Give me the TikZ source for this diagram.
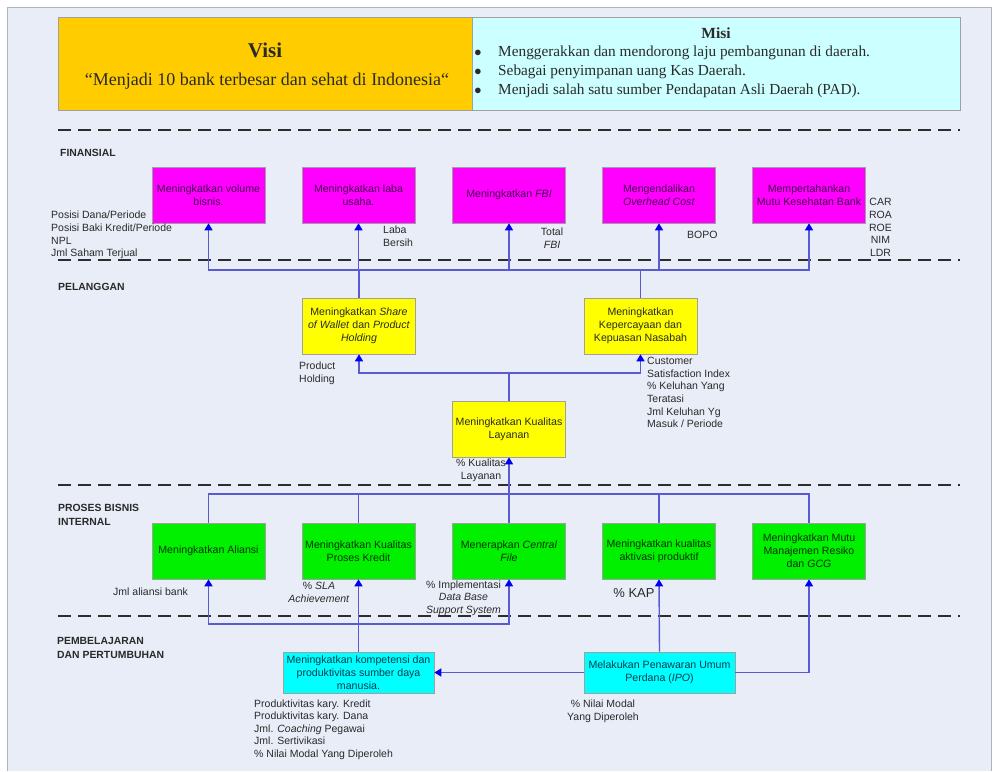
\documentclass[tikz,border=0pt]{standalone}
\usepackage{fontspec}
\setmainfont{Liberation Serif}
\setsansfont{Liberation Sans}
\usetikzlibrary{arrows.meta,calc}
\definecolor{bg}{HTML}{E9EDF8}
\definecolor{visiC}{HTML}{FFCC00}
\definecolor{misiC}{HTML}{CCFFFF}
\definecolor{magC}{HTML}{FF00FF}
\definecolor{yelC}{HTML}{FFFF00}
\definecolor{grnC}{HTML}{00F000}
\definecolor{cyaC}{HTML}{00FFFF}
\definecolor{lineC}{HTML}{5A5AD2}
\definecolor{tipC}{HTML}{0000F0}
\definecolor{txt}{HTML}{2A2A2A}
\definecolor{bord}{HTML}{A0A0A0}
\newcommand{\bfnt}{\sffamily\fontsize{10.6}{13}\selectfont}
\newcommand{\lfnt}{\sffamily\fontsize{10.5}{12.6}\selectfont}
\tikzset{
  box/.style={draw=bord, line width=0.6pt, minimum width=113pt, minimum height=56pt,
    align=center, font=\bfnt, inner sep=1pt, text=txt},
  magbox/.style={box, fill=magC, text={rgb,255:red,70;green,0;blue,80}},
  yelbox/.style={box, fill=yelC},
  grnbox/.style={box, fill=grnC, text={rgb,255:red,0;green,50;blue,0}},
  cyabox/.style={box, fill=cyaC, minimum width=151pt, minimum height=41pt, text={rgb,255:red,0;green,60;blue,80}},
  lbl/.style={font=\lfnt, text=txt, inner sep=0pt},
  sect/.style={font=\sffamily\bfseries\fontsize{10.4}{13.5}\selectfont, text=txt, inner sep=0pt, align=left, anchor=west},
  dline/.style={draw={rgb,255:red,45;green,45;blue,45}, line width=2pt, dash pattern=on 13pt off 7pt},
  conn/.style={draw=lineC, line width=1.4pt},
  arr/.style={conn, -{Triangle[width=8pt,length=7pt,color=tipC]}},
}
\begin{document}
\begin{tikzpicture}[x=1pt,y=-1pt]
\useasboundingbox (0,0) rectangle (998,771);
\fill[white] (0,0) rectangle (998,771);
\fill[bg] (7,7) rectangle (991,771);
\draw[bord!80, line width=0.8pt] (7,771) -- (7,7) -- (991,7) -- (991,771);

% Visi / Misi
\node[draw=bord, fill=visiC, minimum width=414pt, minimum height=93pt, inner sep=0pt] (visi) at (265,63.5) {};
\node[font=\bfseries\fontsize{21}{24}\selectfont, text=txt] (visiT) at (265,50) {Visi};
\node[font=\fontsize{18}{20}\selectfont, text=txt] (visiQ) at (267,81) {“Menjadi 10 bank terbesar dan sehat di Indonesia“};
\node[draw=bord, fill=misiC, minimum width=488pt, minimum height=93pt, inner sep=0pt] (misi) at (716,63.5) {};
\node[font=\bfseries\fontsize{15.5}{18}\selectfont, text=txt] (misiT) at (716,33) {Misi};
\foreach \yy/\tt [count=\i] in {53/{Menggerakkan dan mendorong laju pembangunan di daerah.},72/{Sebagai penyimpanan uang Kas Daerah.},91/{Menjadi salah satu sumber Pendapatan Asli Daerah (PAD).}}{
  \node[font=\fontsize{14.5}{17}\selectfont, text=txt, inner sep=0pt] (mb\i) at (478,\yy) {$\bullet$};
  \node[font=\fontsize{15.3}{17}\selectfont, text=txt, anchor=west, inner sep=0pt] (mi\i) at (498,\yy) {\tt};
}

% dashed separators
\draw[dline] (58,130) -- (960,130);
\draw[dline] (58,260) -- (960,260);
\draw[dline] (58,485) -- (960,485);
\draw[dline] (58,616) -- (960,616);

% section labels
\node[sect] (sF) at (60,153) {FINANSIAL};
\node[sect] (sP) at (58,287) {PELANGGAN};
\node[sect] (sB) at (58,515) {PROSES BISNIS\\INTERNAL};
\node[sect] (sL) at (57,648) {PEMBELAJARAN\\DAN PERTUMBUHAN};

% Financial boxes
\node[magbox] (m1) at (208.5,195) {Meningkatkan volume\\bisnis.};
\node[magbox] (m2) at (358.5,195) {Meningkatkan laba\\usaha.};
\node[magbox] (m3) at (509,195) {Meningkatkan \textit{FBI}};
\node[magbox] (m4) at (659,195) {Mengendalikan\\\textit{Overhead Cost}};
\node[magbox] (m5) at (809,195) {Mempertahankan\\Mutu Kesehatan Bank};

% Customer boxes
\node[yelbox] (y1) at (359,326) {Meningkatkan \textit{Share}\\\textit{of Wallet} dan \textit{Product}\\\textit{Holding}};
\node[yelbox] (y2) at (640.5,326) {Meningkatkan\\Kepercayaan dan\\Kepuasan Nasabah};
\node[yelbox] (y3) at (509,429) {Meningkatkan Kualitas\\Layanan};

% Internal process boxes
\node[grnbox] (g1) at (208.5,551) {Meningkatkan Aliansi};
\node[grnbox] (g2) at (358.5,551) {Meningkatkan Kualitas\\Proses Kredit};
\node[grnbox] (g3) at (509,551) {Menerapkan \textit{Central}\\\textit{File}};
\node[grnbox] (g4) at (659,551) {Meningkatkan kualitas\\aktivasi produktif};
\node[grnbox] (g5) at (809,551) {Meningkatkan Mutu\\Manajemen Resiko\\dan \textit{GCG}};

% Learning boxes
\node[cyabox] (c1) at (358.5,672.5) {Meningkatkan kompetensi dan\\produktivitas sumber daya\\manusia.};
\node[cyabox] (c2) at (659.5,672.5) {Melakukan Penawaran Umum\\Perdana (\textit{IPO})};

% bus coordinates
\coordinate (busF) at (0,270);
\coordinate (busP) at (0,373);
\coordinate (busB) at (0,494);
\coordinate (busL) at (0,624);

% customer -> financial
\foreach \m in {m1,m2,m3,m4,m5}{
  \draw[arr] (y1.north) -- (y1.north |- busF) -| (\m.south);
}
\draw[conn] (y2.north) -- (y2.north |- busF);
% quality -> customer
\draw[arr] (y3.north) -- (y3.north |- busP) -| (y1.south);
\draw[arr] (y3.north) -- (y3.north |- busP) -| (y2.south);
% internal -> quality
\foreach \g in {g1,g2,g4,g5}{
  \draw[conn] (\g.north) -- (\g.north |- busB) -- (g3.north |- busB);
}
\draw[arr] (g3.north) -- (y3.south);
% learning -> internal
\foreach \g in {g1,g2,g3}{
  \draw[arr] (c1.north) -- (c1.north |- busL) -| (\g.south);
}
\draw[arr] (c2.north) -- (g4.south);
\draw[arr] (c2.east) -| (g5.south);
\draw[arr] (c2.west) -- (c1.east);

% measure labels
\node[lbl, align=left, anchor=north west] (lF1) at (51,211) {Posisi Dana/Periode\\Posisi Baki Kredit/Periode\\NPL\\Jml Saham Terjual};
\node[lbl, align=left, anchor=west] (lF2) at (383,236) {Laba\\Bersih};
\node[lbl, align=center] (lF3) at (552,238) {Total\\\textit{FBI}};
\node[lbl, anchor=west] (lF4) at (687,235) {BOPO};
\node[lbl, align=center] (lF5) at (880.5,227.5) {CAR\\ROA\\ROE\\NIM\\LDR};
\node[lbl, align=left, anchor=west] (lP1) at (299,373.5) {Product\\Holding};
\node[lbl, align=left, anchor=west] (lP2) at (647,392.5) {Customer\\Satisfaction Index\\\% Keluhan Yang\\Teratasi\\Jml Keluhan Yg\\Masuk / Periode};
\node[lbl, align=center] (lP3) at (481,470) {\% Kualitas\\Layanan};
\node[lbl, anchor=west] (lB1) at (113,592) {Jml aliansi bank};
\node[lbl, align=center] (lB2) at (319,592.5) {\% \textit{SLA}\\\textit{Achievement}};
\node[lbl, align=center] (lB3) at (463.5,598) {\% Implementasi\\\textit{Data Base}\\\textit{Support System}};
\node[lbl, font=\sffamily\fontsize{13}{15}\selectfont] (lB4) at (634,593) {\% KAP};
\node[lbl, align=left, anchor=west] (lL1) at (254,729.5) {Produktivitas kary. Kredit\\Produktivitas kary. Dana\\Jml. \textit{Coaching} Pegawai\\Jml. Sertivikasi\\\% Nilai Modal Yang Diperoleh};
\node[lbl, align=center] (lL2) at (603,711.5) {\% Nilai Modal\\Yang Diperoleh};
\end{tikzpicture}
\end{document}
